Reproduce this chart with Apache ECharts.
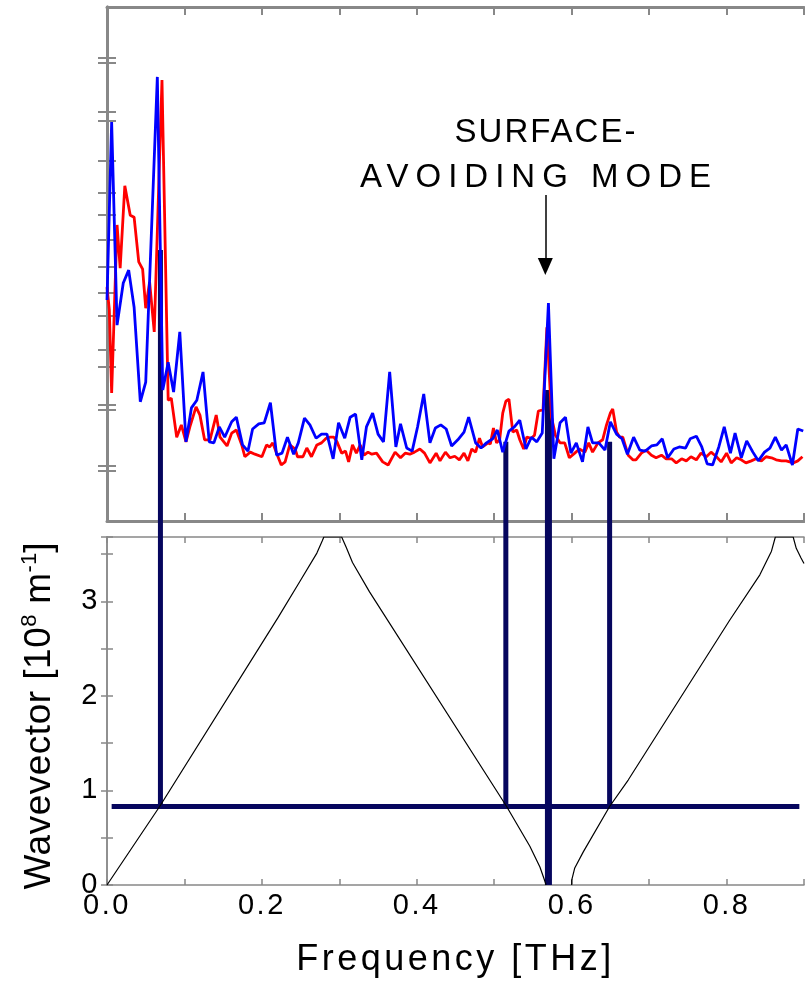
<!DOCTYPE html>
<html><head><meta charset="utf-8">
<script src="https://cdn.jsdelivr.net/npm/echarts@6/dist/echarts.min.js"></script>
<style>html,body{margin:0;padding:0;background:#fff}#c{width:805px;height:986px}</style>
</head><body><div id="c"></div>
<script>
// ---------- data ----------
const blueFreq=[0.000,0.006,0.013,0.021,0.028,0.035,0.043,0.050,0.065,0.072,0.079,0.086,0.094,0.102,0.109,0.116,0.124,0.132,0.138,0.145,0.152,0.161,0.167,0.175,0.182,0.188,0.196,0.203,0.211,0.219,0.226,0.233,0.241,0.247,0.255,0.262,0.270,0.277,0.284,0.292,0.299,0.307,0.314,0.321,0.329,0.335,0.343,0.350,0.357,0.365,0.373,0.379,0.387,0.394,0.401,0.409,0.417,0.424,0.431,0.438,0.445,0.453,0.461,0.467,0.476,0.483,0.490,0.498,0.504,0.511,0.519,0.526,0.533,0.541,0.548,0.555,0.562,0.570,0.577,0.585,0.592,0.599,0.606,0.614,0.621,0.627,0.635,0.643,0.650,0.658,0.665,0.672,0.680,0.688,0.695,0.703,0.710,0.717,0.724,0.732,0.739,0.747,0.753,0.761,0.768,0.775,0.782,0.790,0.797,0.805,0.811,0.819,0.826,0.834,0.841,0.849,0.856,0.863,0.871,0.877,0.885,0.892,0.899];
const blueAmp=[43.0,77.6,38.1,46.3,48.8,41.6,23.2,27.0,86.4,25.5,30.9,25.1,36.8,15.4,22.0,23.5,29.0,15.4,15.2,18.3,16.3,19.3,20.2,14.8,13.6,17.9,18.9,19.1,23.0,12.8,13.2,16.3,13.0,15.2,20.0,18.7,16.1,16.9,16.9,12.1,19.1,16.1,20.2,20.8,11.9,18.3,21.0,16.9,15.4,29.0,14.4,18.9,14.2,13.6,18.3,24.7,15.2,18.1,18.7,17.9,14.6,15.8,17.3,20.2,15.2,14.2,15.2,16.0,17.7,13.4,17.5,18.3,19.6,14.0,16.3,15.4,17.1,42.4,12.1,19.1,20.2,13.2,15.2,11.5,18.3,15.2,15.2,13.8,19.3,16.9,16.0,13.0,16.3,13.8,13.6,14.6,14.8,16.0,12.3,14.0,14.4,14.2,16.0,16.5,14.4,11.1,10.9,14.4,18.3,13.2,17.1,12.3,15.6,13.4,11.7,13.4,14.2,16.3,13.8,14.8,10.9,17.9,17.5];
const redFreq=[0.000,0.003,0.006,0.013,0.017,0.023,0.030,0.035,0.041,0.046,0.050,0.055,0.061,0.071,0.079,0.083,0.090,0.096,0.102,0.107,0.115,0.120,0.126,0.133,0.141,0.146,0.155,0.161,0.167,0.174,0.178,0.185,0.191,0.200,0.206,0.210,0.214,0.219,0.225,0.230,0.236,0.243,0.246,0.253,0.258,0.264,0.271,0.277,0.283,0.288,0.293,0.297,0.303,0.308,0.312,0.317,0.322,0.327,0.332,0.337,0.342,0.348,0.356,0.363,0.372,0.379,0.385,0.391,0.397,0.404,0.410,0.417,0.425,0.430,0.437,0.443,0.449,0.455,0.461,0.466,0.471,0.476,0.481,0.485,0.492,0.495,0.499,0.503,0.507,0.511,0.515,0.519,0.524,0.529,0.533,0.538,0.542,0.548,0.552,0.557,0.563,0.568,0.574,0.579,0.585,0.591,0.597,0.604,0.610,0.617,0.622,0.627,0.634,0.640,0.645,0.650,0.653,0.658,0.662,0.666,0.673,0.679,0.683,0.690,0.696,0.703,0.709,0.716,0.722,0.729,0.735,0.742,0.748,0.754,0.761,0.767,0.774,0.780,0.787,0.793,0.800,0.806,0.813,0.819,0.825,0.832,0.838,0.845,0.851,0.858,0.864,0.871,0.877,0.886,0.892,0.898];
const redAmp=[45.5,41.1,24.9,57.6,49.2,65.2,59.5,59.1,50.4,49.0,41.4,46.5,36.8,85.8,23.5,23.9,16.3,18.7,15.4,18.3,22.2,20.6,15.8,15.8,20.6,16.3,14.6,17.1,17.7,14.8,12.5,13.4,13.0,12.5,14.8,14.4,15.2,13.2,10.9,11.5,14.8,14.0,12.5,12.5,14.2,12.5,14.8,15.2,16.1,16.3,16.3,15.4,13.2,13.6,11.5,14.8,13.2,14.8,12.8,13.4,13.0,13.2,11.5,10.9,13.4,12.3,13.2,13.0,13.4,14.0,13.2,11.3,13.2,11.7,13.4,12.3,12.6,11.9,13.2,11.7,14.0,13.4,16.1,14.4,15.2,15.0,18.1,15.2,15.8,21.0,23.3,23.7,17.3,17.7,15.8,14.0,16.3,16.1,16.7,21.4,21.6,37.7,20.2,16.7,15.2,15.2,12.3,13.2,14.0,13.4,15.2,13.4,15.2,15.8,18.7,21.0,21.8,17.3,16.3,16.3,12.8,11.9,11.9,13.2,13.8,12.8,12.3,12.8,12.1,12.1,11.3,12.1,11.7,12.5,11.9,13.2,12.5,13.4,12.5,11.5,13.2,11.3,12.3,11.9,11.3,11.7,12.1,11.7,12.5,12.3,11.9,11.7,11.7,11.3,11.7,12.5];

// dispersion (folded) branches: frequency [THz], wavevector [1e8 1/m]
const branch1Freq=[0.000,0.068,0.221,0.249,0.271,0.278,0.280,0.303,0.309,0.317,0.339,0.516,0.546,0.559,0.565,0.567];
const branch1K   =[0.00,0.83,2.83,3.21,3.51,3.64,3.68,3.68,3.57,3.41,3.10,0.83,0.41,0.19,0.05,0.00];
const branch2Freq=[0.600,0.600,0.604,0.615,0.649,0.673,0.804,0.843,0.858,0.863,0.886,0.890,0.896,0.900];
const branch2K   =[0.00,0.05,0.18,0.35,0.83,1.11,2.80,3.28,3.53,3.68,3.68,3.56,3.46,3.40];

// resonance modes: frequency, top of marker in spectrum units, bottom wavevector
const modeFreq=[0.069,0.515,0.570,0.649];
const modeTop=[52.7,15.4,25.5,15.4];
const modeBottomK=[0.83,0.83,0.00,0.83];
// superlattice wavevector line
const kLineValue=0.83;
const kLineFreq=[0.006,0.894];

// annotation arrow (spectrum panel units)
const arrowFreq=0.566;
const arrowFrom=63.4;
const arrowTo=49.5;

// ticks and labels
const freqLabels=[0,0.2,0.4,0.6,0.8];
const kLabels=[0,1,2,3];
const spectrumTicks=[9.7,10.7,21.6,22.6,30.0,33.3,39.9,44.4,49.4,54.7,59.5,63.9,70.0,77.8,79.6,89.1,90.1];

// ---------- text tracking (the original uses wide letter spacing) ----------
const LETTER_SPACING={'SURFACE-':2,'AVOIDING MODE':7,'Frequency [THz]':3.5,'Wavevector [10':0.5,' m':0.5};
function fontPx(font){const m=/(\d+(?:\.\d+)?)px/.exec(font||'');return m?parseFloat(m[1]):12;}
function spacingFor(text,font){
  if(Object.prototype.hasOwnProperty.call(LETTER_SPACING,text))return LETTER_SPACING[text];
  const s=fontPx(font);
  if(/^[0-9.]+$/.test(text)&&s>=24&&s<=30)return 2.5;
  return 0;
}
const supportsLS=('letterSpacing' in CanvasRenderingContext2D.prototype);
if(supportsLS){
  const mctx=document.createElement('canvas').getContext('2d');
  if(echarts.setPlatformAPI){
    echarts.setPlatformAPI({measureText:function(text,font){
      mctx.font=font||'12px sans-serif';
      mctx.letterSpacing=spacingFor(text,mctx.font)+'px';
      return mctx.measureText(text);
    }});
  }
  const _fill=CanvasRenderingContext2D.prototype.fillText;
  CanvasRenderingContext2D.prototype.fillText=function(t,x,y,mw){
    const prev=this.letterSpacing;
    this.letterSpacing=spacingFor(String(t),this.font)+'px';
    const r=(mw===undefined)?_fill.call(this,t,x,y):_fill.call(this,t,x,y,mw);
    this.letterSpacing=prev;
    return r;
  };
}

// ---------- chart ----------
const FONT='Liberation Sans, Arial, Helvetica, sans-serif';
const NAVY='#06065e';
const GRAY='#888888';
const chart=echarts.init(document.getElementById('c'),null,{renderer:'canvas'});

function xAx(grid,pos,opts){
  return Object.assign({type:'value',gridIndex:grid,position:pos,min:0,max:0.9,interval:0.1,
    axisLine:{show:true,onZero:false,lineStyle:{color:GRAY,width:grid===0?3:1.5}},
    axisTick:{show:true,inside:true,length:grid===0?8:6,lineStyle:{color:GRAY,width:grid===0?2:1.5}},
    axisLabel:{show:false},splitLine:{show:false}},opts||{});
}
const topY=(pos)=>({type:'value',gridIndex:0,position:pos,min:0,max:100,
  axisLine:{show:true,lineStyle:{color:GRAY,width:3}},
  axisTick:{show:true,inside:true,length:9,customValues:spectrumTicks,lineStyle:{color:GRAY,width:2}},
  axisLabel:{show:false},splitLine:{show:false}});
const botY=(pos,opts)=>Object.assign({type:'value',gridIndex:1,position:pos,min:0,max:3.68,interval:0.5,
  axisLine:{show:true,lineStyle:{color:GRAY,width:1.5}},
  axisTick:{show:true,inside:true,length:6,lineStyle:{color:GRAY,width:1.5}},
  axisLabel:{show:false},splitLine:{show:false}},opts||{});

function renderMode(params,api){
  const f=api.value(0),kb=api.value(1),top=api.value(2);
  const pb=api.coord([f,kb]);
  const pt=chart.convertToPixel({xAxisIndex:0,yAxisIndex:0},[f,top]);
  const w=kb===0?7:5;
  return {type:'line',shape:{x1:pb[0],y1:pb[1],x2:pb[0],y2:pt[1]},style:{stroke:NAVY,lineWidth:w}};
}

const dispersion=branch1Freq.map((f,i)=>[f,branch1K[i]]).concat([[null,null]],branch2Freq.map((f,i)=>[f,branch2K[i]]));

chart.setOption({
  animation:false,
  backgroundColor:'#ffffff',
  textStyle:{fontFamily:FONT},
  grid:[{left:107,top:7,width:697,height:514},{left:107,top:537,width:697,height:348}],
  xAxis:[
    xAx(0,'bottom'),xAx(0,'top'),
    xAx(1,'bottom',{
      axisLabel:{show:true,customValues:freqLabels,formatter:v=>v.toFixed(1),color:'#000',fontSize:29,fontFamily:FONT,margin:6},
      name:'Frequency [THz]',nameLocation:'middle',nameGap:57,
      nameTextStyle:{fontSize:36,color:'#000',fontFamily:FONT}}),
    xAx(1,'top')
  ],
  yAxis:[
    topY('left'),topY('right'),
    botY('left',{
      axisLabel:{show:true,customValues:kLabels,color:'#000',fontSize:29,fontFamily:FONT,margin:7},
      name:'{b|Wavevector [10}{s|8}{b| m}{s|-1}{b|]}',nameLocation:'middle',nameRotate:90,nameGap:46,
      nameTextStyle:{color:'#000',fontFamily:FONT,padding:[0,10,0,0],rich:{
        b:{fontSize:37,lineHeight:42,color:'#000',fontFamily:FONT},
        s:{fontSize:22,lineHeight:20,verticalAlign:'top',color:'#000',fontFamily:FONT}}}}),
    botY('right')
  ],
  graphic:[
    {type:'text',x:546,y:133,style:{text:'SURFACE-',fontSize:33,fontFamily:FONT,fill:'#000',align:'center',verticalAlign:'middle'}},
    {type:'text',x:539,y:178,style:{text:'AVOIDING MODE',fontSize:33,fontFamily:FONT,fill:'#000',align:'center',verticalAlign:'middle'}}
  ],
  series:[
    {type:'custom',name:'modes',coordinateSystem:'cartesian2d',xAxisIndex:2,yAxisIndex:2,clip:false,z:2,
      renderItem:renderMode,encode:{x:0,y:1},
      data:modeFreq.map((f,i)=>[f,modeBottomK[i],modeTop[i]])},
    {type:'line',name:'k-line',xAxisIndex:2,yAxisIndex:2,symbol:'none',z:2,
      data:kLineFreq.map(f=>[f,kLineValue]),lineStyle:{color:NAVY,width:5}},
    {type:'line',name:'dispersion',xAxisIndex:2,yAxisIndex:2,symbol:'none',z:3,connectNulls:false,
      data:dispersion,lineStyle:{color:'#000',width:1.2}},
    {type:'line',name:'red',xAxisIndex:0,yAxisIndex:0,symbol:'none',z:4,
      data:redFreq.map((f,i)=>[f,redAmp[i]]),lineStyle:{color:'#ff0000',width:2.8}},
    {type:'line',name:'blue',xAxisIndex:0,yAxisIndex:0,symbol:'none',z:5,
      data:blueFreq.map((f,i)=>[f,blueAmp[i]]),lineStyle:{color:'#0000ff',width:2.8},
      markLine:{silent:true,symbol:['none','triangle'],symbolSize:[15,17],animation:false,
        lineStyle:{color:'#000',width:1.5,type:'solid'},label:{show:false},emphasis:{disabled:true},
        data:[[{coord:[arrowFreq,arrowFrom]},{coord:[arrowFreq,arrowTo]}]]}}
  ]
});
</script></body></html>
